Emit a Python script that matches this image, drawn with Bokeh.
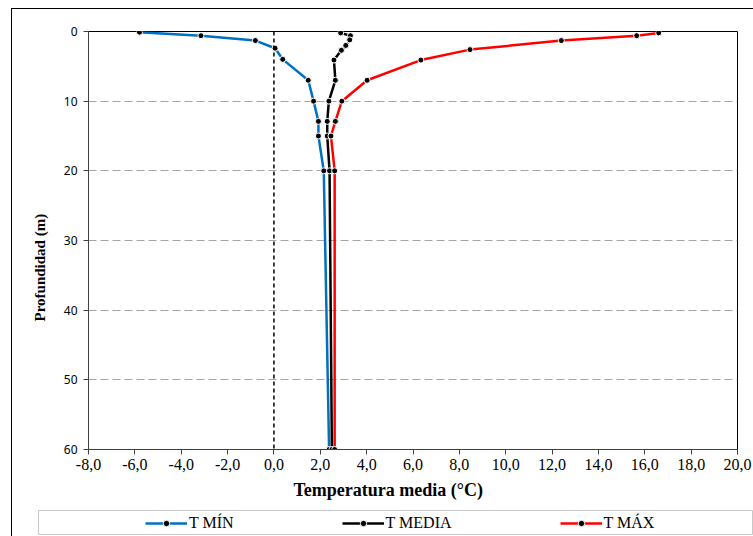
from bokeh.plotting import figure
from bokeh.layouts import column
from bokeh.models import Range1d, FixedTicker, Legend, LegendItem, Span, Title
from bokeh.embed import file_html
from bokeh.resources import INLINE

# ---- data ----
x_ticks = [-8, -6, -4, -2, 0, 2, 4, 6, 8, 10, 12, 14, 16, 18, 20]
x_tick_labels = ["-8,0", "-6,0", "-4,0", "-2,0", "0,0", "2,0", "4,0", "6,0",
                 "8,0", "10,0", "12,0", "14,0", "16,0", "18,0", "20,0"]
y_ticks = [0, 10, 20, 30, 40, 50, 60]
y_tick_labels = ["0", "10", "20", "30", "40", "50", "60"]

depth_min = [0.1, 0.6, 1.3, 2.4, 4.0, 7.0, 10.0, 12.9, 15.0, 20.0, 60.0]
t_min = [-5.8, -3.15, -0.8, 0.05, 0.38, 1.48, 1.71, 1.92, 1.92, 2.15, 2.38]

depth_media = [0.2, 0.6, 1.2, 2.0, 2.7, 4.1, 7.0, 10.0, 12.9, 15.0, 20.0, 60.0]
t_media = [2.88, 3.30, 3.27, 3.10, 2.91, 2.59, 2.65, 2.37, 2.30, 2.30, 2.40, 2.50]

depth_max = [0.2, 0.6, 1.3, 2.6, 4.1, 7.0, 10.0, 12.9, 15.0, 20.0, 60.0]
t_max = [16.6, 15.65, 12.4, 8.46, 6.34, 4.02, 2.93, 2.65, 2.46, 2.62, 2.62]

series_names = ["T MÍN", "T MEDIA", "T MÁX"]
series_colors = ["#0070C0", "#000000", "#FF0000"]

x_title = "Temperatura media (°C)"
y_title = "Profundidad (m)"

# ---- main figure ----
p = figure(width=741, height=500, output_backend="svg", toolbar_location=None,
           x_range=Range1d(-8, 20), y_range=Range1d(60, 0),
           min_border_left=76, min_border_right=16, min_border_top=22,
           min_border_bottom=60)
p.frame_align = False
p.background_fill_color = "white"
p.border_fill_color = "white"
p.outline_line_color = "black"
p.outline_line_width = 1

p.xaxis.ticker = FixedTicker(ticks=x_ticks)
p.xaxis.major_label_overrides = {t: l for t, l in zip(x_ticks, x_tick_labels)}
p.yaxis.ticker = FixedTicker(ticks=y_ticks)
p.yaxis.major_label_overrides = {t: l for t, l in zip(y_ticks, y_tick_labels)}
for ax in (p.xaxis, p.yaxis):
    ax.minor_tick_line_color = None
    ax.major_tick_in = 0
    ax.major_tick_out = 5
    ax.axis_line_color = "#404040"
    ax.major_tick_line_color = "#404040"
    ax.major_label_text_color = "#000000"

p.xaxis.major_label_text_font = "Liberation Serif"
p.xaxis.major_label_text_font_size = "16px"
p.xaxis.major_label_standoff = 4

p.yaxis.major_label_text_font = "Noto Sans"
p.yaxis.major_label_text_font_size = "12px"
p.yaxis.major_label_standoff = 6

# axis titles (as side titles so they can sit off-centre like the original)
p.add_layout(Title(text=x_title, align="left", offset=205,
                   text_font="Liberation Serif", text_font_size="18px",
                   text_font_style="bold", text_color="black",
                   standoff=11), "below")
p.add_layout(Title(text=y_title, align="left", offset=128,
                   text_font="Liberation Serif", text_font_size="15px",
                   text_font_style="bold", text_color="black",
                   standoff=26), "left")

p.xgrid.grid_line_color = None
p.ygrid.ticker = FixedTicker(ticks=y_ticks[1:-1])
p.ygrid.grid_line_color = "#a6a6a6"
p.ygrid.grid_line_dash = "8 4"
p.ygrid.grid_line_width = 1

p.add_layout(Span(location=0, dimension="height", line_color="black",
                  line_dash="4 3", line_width=1.5))

xs = [t_min, t_media, t_max]
ys = [depth_min, depth_media, depth_max]
for color, xv, yv in zip(series_colors, xs, ys):
    p.line(xv, yv, line_color=color, line_width=2.5)
    p.scatter(xv, yv, size=6, fill_color="black", line_color="white",
              line_width=1)

# ---- legend strip (its frame outline is the legend box) ----
# series are re-plotted here on ranges that keep them out of view, only so
# that the legend can draw their line + marker samples
leg = figure(width=741, height=27, output_backend="svg", toolbar_location=None,
             x_range=Range1d(1000, 1001), y_range=Range1d(1000, 1001),
             min_border_left=26, min_border_right=0, min_border_top=1,
             min_border_bottom=2)
leg.frame_align = False
leg.xaxis.visible = False
leg.yaxis.visible = False
leg.grid.visible = False
leg.outline_line_color = "#c8c8c8"
leg.outline_line_width = 1
leg.background_fill_color = "white"
leg.border_fill_color = "white"

items = []
for name, color, xv, yv in zip(series_names, series_colors, xs, ys):
    lr = leg.line(xv, yv, line_color=color, line_width=2.5)
    sr = leg.scatter(xv, yv, size=6, fill_color="black", line_color="white",
                     line_width=1)
    items.append(LegendItem(label=name, renderers=[lr, sr]))

legend = Legend(items=items, location=(107, 2), orientation="horizontal",
                border_line_color=None, background_fill_alpha=0,
                padding=0, margin=0, spacing=108,
                glyph_width=42, glyph_height=16, label_standoff=2,
                label_text_font="Liberation Serif", label_text_font_size="16px",
                label_text_color="black")
leg.add_layout(legend, "center")

layout = column(p, leg, spacing=0,
                styles={"border-left": "1px solid black",
                        "border-top": "1px solid black",
                        "margin-left": "11px", "margin-top": "8px"})

open("out.html", "w").write(file_html(layout, INLINE))
